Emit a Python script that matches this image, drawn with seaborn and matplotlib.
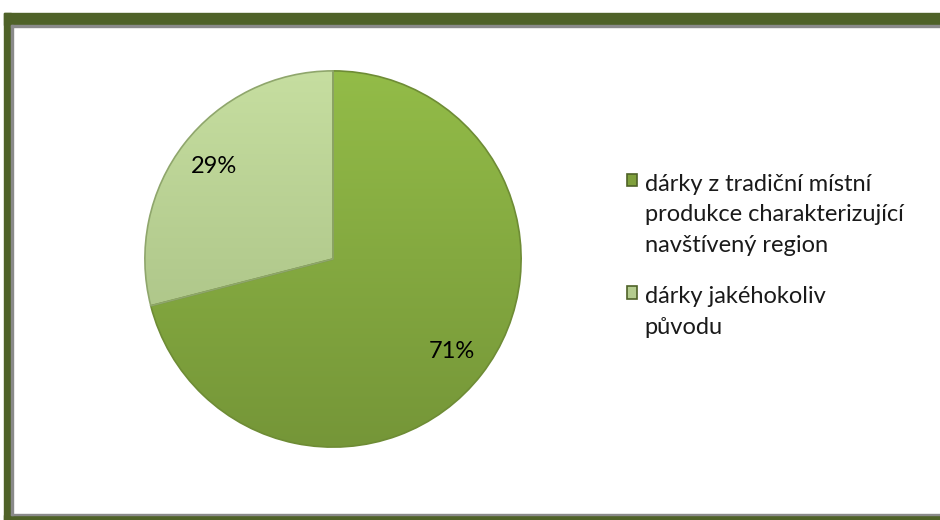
import numpy as np
import matplotlib
matplotlib.use("Agg")
import matplotlib.pyplot as plt
import seaborn as sns
from matplotlib.patches import Rectangle
from matplotlib.colors import LinearSegmentedColormap

categories = ["dárky z tradiční místní\nprodukce charakterizující\nnavštívený region",
              "dárky jakéhokoliv\npůvodu"]
values = [71, 29]

top_colors = ["#93BC48", "#C6DEA0"]
bottom_colors = ["#759638", "#A2BA7E"]
edge_colors = ["#6E8C35", "#8FA66C"]
handle_colors = ["#7FA03C", "#B4CC8E"]
frame_color = "#4F6228"

sns.set_theme(style="white")
plt.rcParams["font.family"] = ["Lato", "DejaVu Sans"]

fig = plt.figure(figsize=(9.4, 5.2), dpi=100)
fig.patch.set_facecolor("white")

W, H = 940, 520
def frect(x0, y0, w, h, color):
    fig.patches.append(Rectangle((x0 / W, 1 - (y0 + h) / H), w / W, h / H,
                                 transform=fig.transFigure, color=color, zorder=0))
frect(4, 13, 936, 12, frame_color)
frect(4, 13, 7, 507, frame_color)
frect(4, 515, 936, 5, frame_color)
frect(11, 25, 929, 1.5, "#8A8A8A")
frect(11, 25, 1.5, 490, "#8A8A8A")
frect(11, 513.5, 929, 1.5, "#8A8A8A")

ax = fig.add_axes([143 / W, 1 - 449 / H, 380 / W, 380 / H])
ax.set_aspect("equal")

wedges, texts, autotexts = ax.pie(
    values, startangle=90, counterclock=False, radius=1.0,
    colors=top_colors, autopct=lambda p: f"{p:.0f}%", pctdistance=0.8,
    wedgeprops=dict(edgecolor="none", linewidth=0),
    textprops=dict(fontsize=17, color="black"))

for w, tc, bc, ec in zip(wedges, top_colors, bottom_colors, edge_colors):
    cmap = LinearSegmentedColormap.from_list("g", [bc, tc])
    grad = np.linspace(0, 1, 256).reshape(-1, 1)
    im = ax.imshow(grad, cmap=cmap, extent=(-1, 1, -1, 1), origin="lower",
                   aspect="auto", zorder=1)
    im.set_clip_path(w)
    w.set_facecolor("none")
    w.set_edgecolor(ec)
    w.set_linewidth(1.2)
    w.set_zorder(2)
for t in autotexts:
    t.set_zorder(5)
ax.set_xlim(-1.01, 1.01)
ax.set_ylim(-1.01, 1.01)
ax.axis("off")

leg = fig.legend(wedges, categories, loc="upper left",
                 bbox_to_anchor=(615 / W, 1 - 162 / H),
                 frameon=False, fontsize=17, handlelength=0.45, handleheight=0.45,
                 handletextpad=0.3, labelspacing=1.3, borderpad=0)
for h, hc in zip(leg.legend_handles, handle_colors):
    h.set_facecolor(hc)
    h.set_edgecolor("#4F6228")
for t in leg.get_texts():
    t.set_linespacing(1.55)
    t.set_color("#1a1a1a")
for col in leg._legend_handle_box.get_children():
    for row in col.get_children():
        row.align = "top"

fig.savefig("out.png", dpi=100, facecolor="white")
